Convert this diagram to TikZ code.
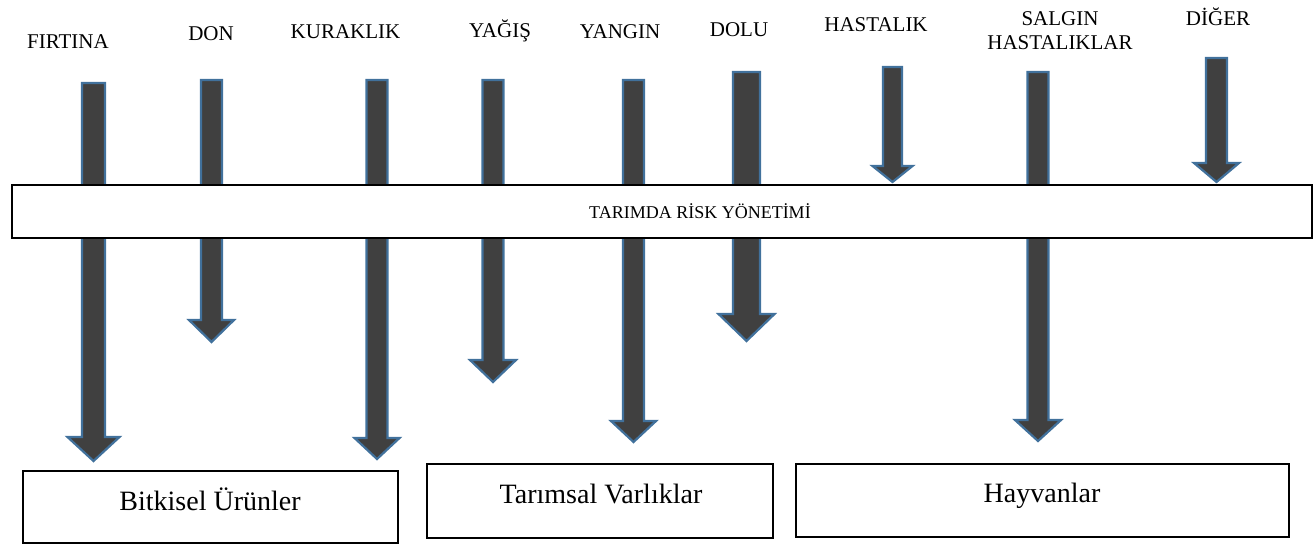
\documentclass[tikz,border=0pt]{standalone}
\usepackage{fontspec}
\setmainfont{Liberation Serif}
\definecolor{arrowgray}{HTML}{404040}
\definecolor{arrowblue}{HTML}{41719C}
% block arrow: centre x, top, head start, tip, shaft half width, head half width
\newcommand\riskarrow[6]{%
  \draw[blockarrow] (#1-#5,#2) -- (#1+#5,#2) -- (#1+#5,#3) -- (#1+#6,#3)
    -- (#1,#4) -- (#1-#6,#3) -- (#1-#5,#3) -- cycle;}
\begin{document}
\begin{tikzpicture}[x=1pt,y=-1pt,
  hazard/.style={font=\fontsize{21}{24}\selectfont, anchor=base, inner sep=0pt},
  areabox/.style={draw=black, line width=1.8pt, fill=white},
  areatext/.style={font=\fontsize{28}{32}\selectfont, anchor=base, inner sep=0pt},
  blockarrow/.style={fill=arrowgray, draw=arrowblue, line width=2.2pt, line join=miter}]

\useasboundingbox (0,0) rectangle (1316,544);

% hazard arrows (drawn first, the central bar covers them)
\riskarrow{93.5}{83}{437}{461}{11.5}{26}
\riskarrow{211.5}{80}{320}{342}{10.5}{22.5}
\riskarrow{377}{80}{438}{459}{10.5}{22.5}
\riskarrow{493}{80}{360}{382}{10.5}{23}
\riskarrow{633.5}{80}{421}{442}{10.5}{22.5}
\riskarrow{746.5}{72}{314}{341}{13.5}{28}
\riskarrow{892.5}{67}{166}{182}{9.5}{20}
\riskarrow{1038}{72}{420}{441}{10.5}{23}
\riskarrow{1216.5}{58}{163}{182}{10.5}{22.5}

% hazard labels
\node[hazard] (firtina) at (68,48) {FIRTINA};
\node[hazard] (don) at (211,40) {DON};
\node[hazard] (kuraklik) at (345.5,38) {KURAKLIK};
\node[hazard] (yagis) at (500,37) {YAĞIŞ};
\node[hazard] (yangin) at (620,38) {YANGIN};
\node[hazard] (dolu) at (739,36) {DOLU};
\node[hazard] (hastalik) at (876,31) {HASTALIK};
\node[hazard, anchor=north, align=center] (salgin) at (1060,11) {SALGIN\\HASTALIKLAR};
\node[hazard] (diger) at (1218,25) {DİĞER};

% central bar
\draw[areabox] (12,185) rectangle (1312,238);
\node[font=\fontsize{18}{21}\selectfont, anchor=base, inner sep=0pt] (risk) at (700,218) {TARIMDA RİSK YÖNETİMİ};

% affected areas
\draw[areabox] (23,471) rectangle (398,543);
\node[areatext] (bitkisel) at (210,510) {Bitkisel Ürünler};
\draw[areabox] (427,464) rectangle (773,538);
\node[areatext] (tarimsal) at (601,503) {Tarımsal Varlıklar};
\draw[areabox] (796,464) rectangle (1289,537);
\node[areatext] (hayvanlar) at (1042,502) {Hayvanlar};
\end{tikzpicture}
\end{document}
